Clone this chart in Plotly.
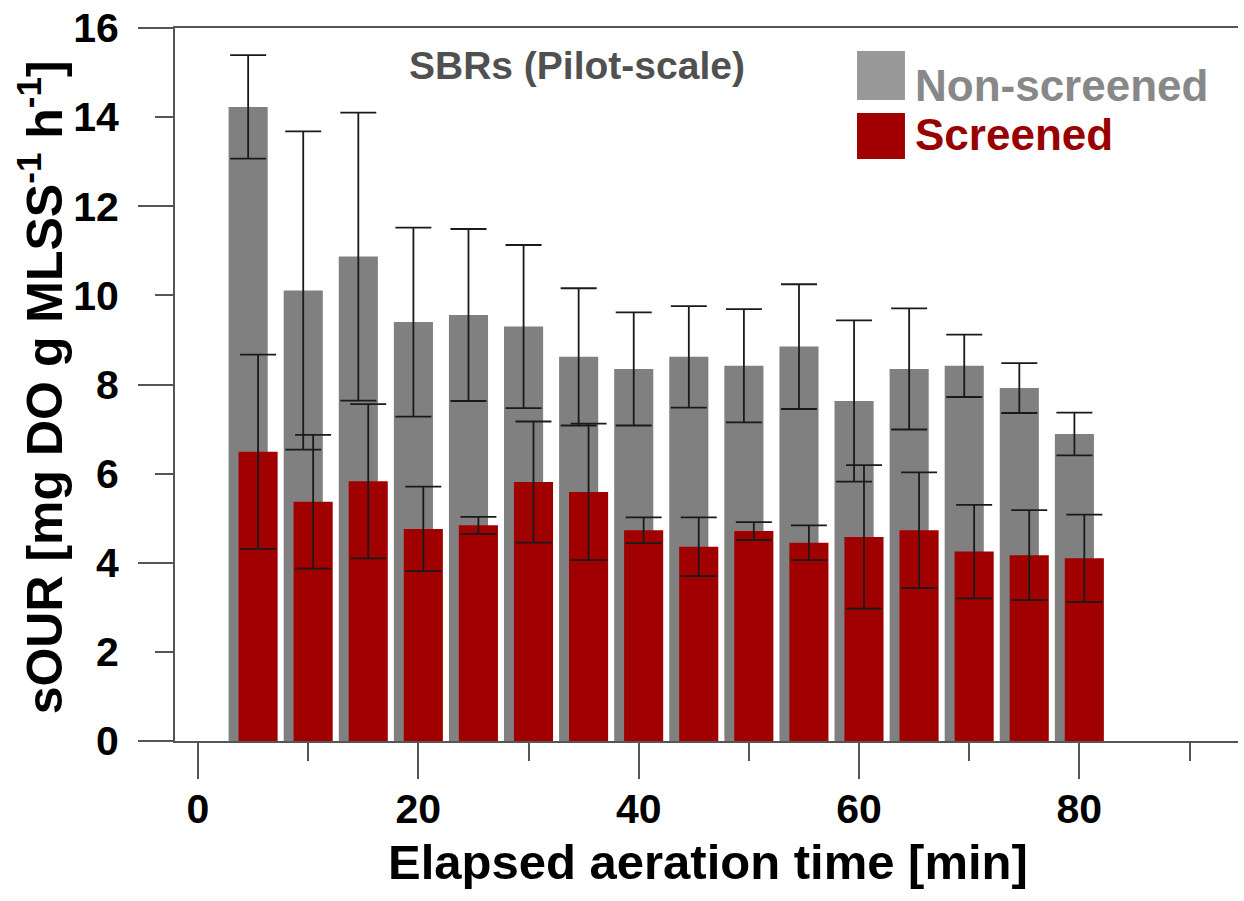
import plotly.graph_objects as go

# ---- data ----
times = [5, 10, 15, 20, 25, 30, 35, 40, 45, 50, 55, 60, 65, 70, 75, 80]
non_screened = [14.23, 10.11, 10.87, 9.40, 9.56, 9.30, 8.62, 8.35, 8.62, 8.42, 8.85, 7.63, 8.35, 8.42, 7.92, 6.89]
non_screened_err = [1.16, 3.57, 3.23, 2.12, 1.93, 1.83, 1.54, 1.27, 1.14, 1.27, 1.40, 1.81, 1.36, 0.70, 0.56, 0.48]
screened = [6.49, 5.37, 5.83, 4.76, 4.84, 5.81, 5.59, 4.73, 4.36, 4.71, 4.45, 4.58, 4.73, 4.25, 4.17, 4.10]
screened_err = [2.18, 1.50, 1.73, 0.95, 0.19, 1.36, 1.53, 0.29, 0.66, 0.20, 0.39, 1.61, 1.30, 1.05, 1.01, 0.98]

x_major = [0, 20, 40, 60, 80]
x_minor = [10, 30, 50, 70, 90]
y_labels = [0, 2, 4, 6, 8, 10, 12, 14, 16]
y_long = [0, 4, 8, 12, 16]

FONT = "Liberation Sans, Arial, sans-serif"
GREY_BAR = "#808080"
RED_BAR = "#a00000"
AXIS_COL = "#555555"

bar_w = 3.55
shift = 0.45

fig = go.Figure()
fig.add_trace(go.Bar(
    x=times, y=non_screened, name="Non-screened",
    width=bar_w, offset=-shift - bar_w / 2,
    marker=dict(color=GREY_BAR, line=dict(width=0)),
    error_y=dict(type="data", array=non_screened_err, visible=True,
                 color="#1a1a1a", thickness=1.8, width=18),
    showlegend=False,
))
fig.add_trace(go.Bar(
    x=times, y=screened, name="Screened",
    width=bar_w, offset=shift - bar_w / 2,
    marker=dict(color=RED_BAR, line=dict(width=0)),
    error_y=dict(type="data", array=screened_err, visible=True,
                 color="#1a1a1a", thickness=1.8, width=18),
    showlegend=False,
))
# helper trace for the long-tick overlay axis
fig.add_trace(go.Scatter(x=[None], y=[None], yaxis="y2", showlegend=False, hoverinfo="skip"))

fig.update_layout(
    width=1244, height=901,
    margin=dict(l=175, r=6, t=28, b=160, autoexpand=False),
    paper_bgcolor="white", plot_bgcolor="white",
    barmode="overlay",
    font=dict(family=FONT, color="black"),
    xaxis=dict(
        range=[-2.09, 94.4], automargin=False,
        tickvals=x_major, ticktext=[str(v) for v in x_major],
        ticks="outside", ticklen=36, tickwidth=2, tickcolor=AXIS_COL,
        minor=dict(tickvals=x_minor, ticks="outside", ticklen=18, tickwidth=2, tickcolor=AXIS_COL),
        showline=True, linecolor=AXIS_COL, linewidth=2, mirror=True,
        showgrid=False, zeroline=False,
        tickfont=dict(family=FONT, size=41, color="black", weight="bold"),
        ticklabelstandoff=-5,
    ),
    yaxis=dict(
        range=[0, 16], automargin=False,
        tickvals=y_labels, ticktext=[str(v) for v in y_labels],
        ticks="outside", ticklen=18, tickwidth=2, tickcolor=AXIS_COL,
        showline=True, linecolor=AXIS_COL, linewidth=2,
        showgrid=False, zeroline=False,
        tickfont=dict(family=FONT, size=41, color="black", weight="bold"),
        ticklabelstandoff=28,
    ),
    yaxis2=dict(
        range=[0, 16], overlaying="y", side="left", automargin=False,
        tickvals=y_long, ticks="outside", ticklen=36, tickwidth=2, tickcolor=AXIS_COL,
        showticklabels=False, showline=False, showgrid=False, zeroline=False,
    ),
)

annotations = [
    dict(text="Elapsed aeration time [min]", xref="paper", yref="paper",
         x=0.501, y=0, yshift=-121, xanchor="center", yanchor="middle",
         showarrow=False, font=dict(family=FONT, size=49, color="black", weight="bold")),
    dict(text="sOUR [mg DO g MLSS<sup>-1</sup> h<sup>-1</sup>]", xref="paper", yref="paper",
         x=0, xshift=-134, y=0.496, xanchor="center", yanchor="middle", textangle=-90,
         showarrow=False, font=dict(family=FONT, size=50, color="black", weight="bold")),
    dict(text="SBRs (Pilot-scale)", xref="paper", yref="paper",
         x=0.378, y=0.947, xanchor="center", yanchor="middle",
         showarrow=False, font=dict(family=FONT, size=39, color="#505050", weight="bold")),
    dict(text="Non-screened", xref="paper", yref="paper",
         x=0.694, y=0.92, xanchor="left", yanchor="middle",
         showarrow=False, font=dict(family=FONT, size=44, color="#888888", weight="bold")),
    dict(text="Screened", xref="paper", yref="paper",
         x=0.694, y=0.851, xanchor="left", yanchor="middle",
         showarrow=False, font=dict(family=FONT, size=44, color="#990000", weight="bold")),
]
fig.update_layout(annotations=annotations)

fig.update_layout(shapes=[
    dict(type="rect", xref="paper", yref="paper", x0=0.6416, x1=0.6867, y0=0.899, y1=0.9677,
         fillcolor="#999999", line=dict(width=0)),
    dict(type="rect", xref="paper", yref="paper", x0=0.6416, x1=0.6867, y0=0.8163, y1=0.8808,
         fillcolor=RED_BAR, line=dict(width=0)),
])

fig.write_html("out.html", config={"displayModeBar": False},
               post_script="document.body.style.margin='0';document.body.style.padding='0';")
